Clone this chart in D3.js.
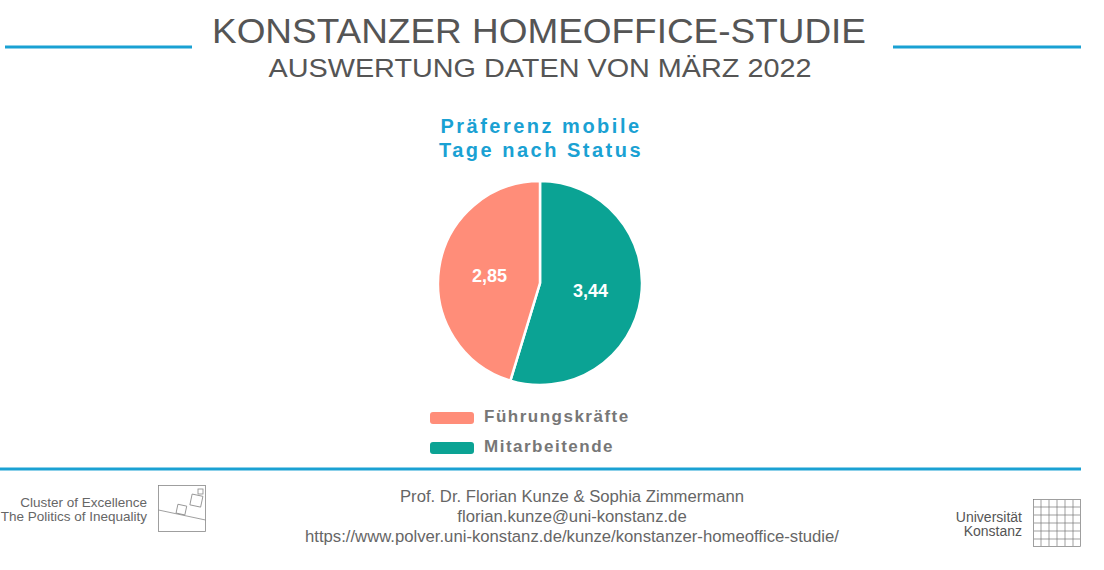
<!DOCTYPE html>
<html><head><meta charset="utf-8">
<script src="https://cdn.jsdelivr.net/npm/d3@7"></script>
<style>html,body{margin:0;padding:0;background:#fff;}svg{display:block;}</style>
</head><body>
<svg id="c" width="1104" height="570"></svg>
<script>
const categories = ["Führungskräfte", "Mitarbeitende"];
const values = [2.85, 3.44];
const valueLabels = ["2,85", "3,44"];
const colors = ["#FF8D79", "#0BA394"];
const title = "KONSTANZER HOMEOFFICE-STUDIE";
const subtitle = "AUSWERTUNG DATEN VON MÄRZ 2022";
const chartTitle = ["Präferenz mobile", "Tage nach Status"];
const footer = ["Prof. Dr. Florian Kunze & Sophia Zimmermann", "florian.kunze@uni-konstanz.de", "https://www.polver.uni-konstanz.de/kunze/konstanzer-homeoffice-studie/"];

const svg = d3.select("#c");
const blue = "#1AA1D3";
const F = "'Liberation Sans', Arial, sans-serif";

// header
svg.append("line").attr("x1",5).attr("x2",192).attr("y1",47).attr("y2",47).attr("stroke",blue).attr("stroke-width",3);
svg.append("line").attr("x1",893).attr("x2",1081).attr("y1",47).attr("y2",47).attr("stroke",blue).attr("stroke-width",3);
svg.append("text").attr("x",539).attr("y",43).attr("text-anchor","middle")
  .attr("font-family",F).attr("font-size",35).attr("fill","#555")
  .attr("textLength",654).attr("lengthAdjust","spacingAndGlyphs").text(title);
svg.append("text").attr("x",540).attr("y",77).attr("text-anchor","middle")
  .attr("font-family",F).attr("font-size",25).attr("fill","#555")
  .attr("textLength",543).attr("lengthAdjust","spacingAndGlyphs").text(subtitle);

// chart title
chartTitle.forEach((t,i)=>{
  svg.append("text").attr("x",541).attr("y",133+i*24).attr("text-anchor","middle")
    .attr("font-family",F).attr("font-weight","bold").attr("font-size",20).attr("fill",blue)
    .attr("letter-spacing","2.5px").text(t);
});

// pie
const cx=540, cy=283, R=102;
const pie = d3.pie().sort(null).startAngle(0).endAngle(2*Math.PI);
const order = [1,0];
const arcs = pie(order.map(i=>values[i]));
const arc = d3.arc().innerRadius(0).outerRadius(R);
const g = svg.append("g").attr("transform",`translate(${cx},${cy})`);
g.selectAll("path").data(arcs).join("path")
  .attr("d",arc).attr("fill",(d,j)=>colors[order[j]]).attr("stroke","#fff").attr("stroke-width",2.5);
g.selectAll("text").data(arcs).join("text")
  .attr("transform",d=>`translate(${arc.centroid(d)})`)
  .attr("text-anchor","middle").attr("dy","0.36em")
  .attr("font-family",F).attr("font-weight","bold").attr("font-size",18).attr("fill","#fff")
  .text((d,j)=>valueLabels[order[j]]);

// legend
categories.forEach((c,i)=>{
  const y = 418 + i*30;
  svg.append("rect").attr("x",430).attr("y",y-6).attr("width",44).attr("height",12).attr("rx",3).attr("fill",colors[i]);
  svg.append("text").attr("x",484).attr("y",y+4).attr("font-family",F).attr("font-weight","bold")
    .attr("font-size",17).attr("fill","#777").attr("letter-spacing","1.5px").text(c);
});

// bottom line
svg.append("line").attr("x1",0).attr("x2",1081).attr("y1",469).attr("y2",469).attr("stroke",blue).attr("stroke-width",3);

// footer
footer.forEach((t,i)=>{
  svg.append("text").attr("x",572).attr("y",502+i*20).attr("text-anchor","middle")
    .attr("font-family",F).attr("font-size",16.7).attr("fill","#666").text(t);
});

// left logo
["Cluster of Excellence","The Politics of Inequality"].forEach((t,i)=>{
  svg.append("text").attr("x",147).attr("y",507+i*14).attr("text-anchor","end")
    .attr("font-family",F).attr("font-size",13.5).attr("fill","#666").text(t);
});
const lg = svg.append("g").attr("stroke","#888").attr("fill","none").attr("stroke-width",0.8);
lg.append("rect").attr("x",158.5).attr("y",485.5).attr("width",47).attr("height",46);
lg.append("line").attr("x1",158.5).attr("y1",510).attr("x2",205.5).attr("y2",520);
lg.append("rect").attr("x",177).attr("y",505).attr("width",9).attr("height",9).attr("transform","rotate(12 181 509)");
lg.append("rect").attr("x",191).attr("y",495).attr("width",11).attr("height",11).attr("transform","rotate(12 196 500)");
lg.append("rect").attr("x",198).attr("y",489).attr("width",5).attr("height",5);

// right logo
["Universität","Konstanz"].forEach((t,i)=>{
  svg.append("text").attr("x",1022).attr("y",522+i*14).attr("text-anchor","end")
    .attr("font-family",F).attr("font-size",14).attr("fill","#555").text(t);
});
const rg = svg.append("g").attr("stroke","#777").attr("fill","none").attr("stroke-width",0.7);
rg.append("rect").attr("x",1033.5).attr("y",499.5).attr("width",47).attr("height",47);
[1041,1049,1057,1065,1073].forEach(x=>rg.append("line").attr("x1",x).attr("x2",x).attr("y1",500).attr("y2",546));
[507,515,523,531,539].forEach(y=>rg.append("line").attr("x1",1034).attr("x2",1080).attr("y1",y).attr("y2",y));
</script>
</body></html>
